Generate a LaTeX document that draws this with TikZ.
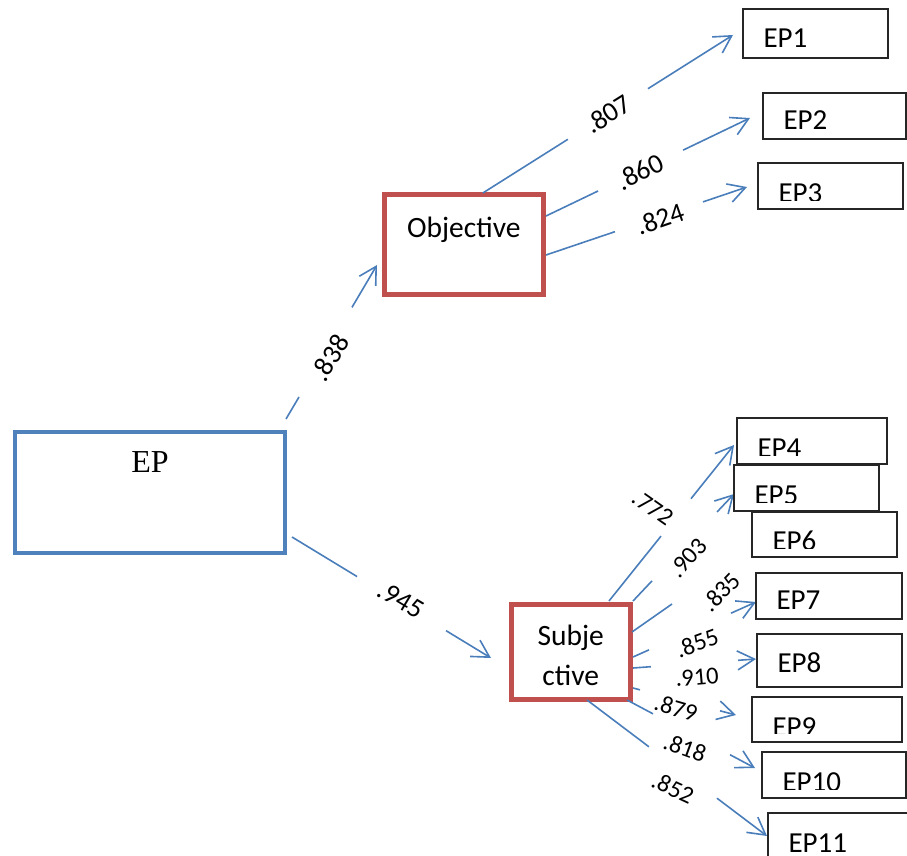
\documentclass[tikz,border=0pt]{standalone}
\usepackage{fontspec}
\setmainfont{Carlito}
\newfontfamily\serifEP{Liberation Serif}
\usetikzlibrary{arrows.meta,calc}
\definecolor{boxblue}{HTML}{4F81BD}
\definecolor{boxred}{HTML}{C0504D}
\definecolor{linkblue}{HTML}{4A7EBB}
\definecolor{boxline}{HTML}{262626}

\begin{document}
\begin{tikzpicture}[x=1pt,y=-1pt,
  conn/.style={draw=linkblue, line width=1.6pt},
  tipped/.style={conn, -{Straight Barb[length=17pt,width=19pt]}},
  coef/.style={inner sep=0pt, font=\fontsize{27.5}{32}\selectfont},
  smallcoef/.style={inner sep=0pt, font=\fontsize{24.5}{29}\selectfont},
  mainbox/.style={draw=boxblue, line width=4.5pt, rectangle, inner sep=0pt, outer sep=0pt,
    minimum width=270pt, text height=40.7pt, text depth=80.3pt,
    font=\serifEP\fontsize{32}{38}\selectfont},
  factorbox/.style={draw=boxred, line width=5pt, rectangle, inner sep=0pt, outer sep=0pt,
    font=\fontsize{29.5}{40}\selectfont},
  % width, height, baseline below the top edge, text
  epbox/.style n args={4}{draw=boxline, line width=1.6pt, fill=white, rectangle,
    inner sep=0pt, outer sep=0pt, minimum width=#1pt, minimum height=#2pt,
    path picture={
      \clip (path picture bounding box.north west) rectangle
            ([yshift=9pt]path picture bounding box.south east);
      \pgftext[left,base,at={\pgfpointadd
          {\pgfpointanchor{path picture bounding box}{north west}}
          {\pgfpoint{20.5pt}{-#3pt}}}]{\fontsize{29}{34}\selectfont #4}
    }},
]
\clip (0,0) rectangle (907,856);

% latent variables
\node[mainbox] (ep) at (150,492.5) {EP};
\node[factorbox, minimum width=159.7pt, text height=42.5pt, text depth=57.5pt]
  (obj) at (463.85,244.5) {Objective};
\node[factorbox, minimum width=119.5pt, text height=81pt, text depth=14pt, align=center]
  (subj) at (570.75,651.5) {Subje\\ctive};

% anchor points of the connectors
\coordinate (s1) at ($(ep.north east)+(1,-13)$);
\coordinate (s2) at ($(ep.east)+(7,44.5)$);
\coordinate (s3) at ($(obj.north)+(19,-1.5)$);
\coordinate (s4) at ($(obj.east)+(2.3,-28.5)$);
\coordinate (s5) at ($(obj.east)+(2.3,10.5)$);
\coordinate (s6) at ($(subj.north east)+(-21.5,-3)$);
\coordinate (s7) at ($(subj.north east)+(2.5,-3)$);
\coordinate (s8) at ($(subj.east)+(1.5,-19.5)$);
\coordinate (s9) at ($(subj.east)+(2.5,5.5)$);
\coordinate (s10) at ($(subj.east)+(2.5,16.5)$);
\coordinate (s11) at ($(subj.east)+(2.5,36.5)$);
\coordinate (s12) at ($(subj.south east)+(-3.5,1)$);
\coordinate (s13) at ($(subj.south)+(16.25,1)$);

% indicator boxes
\node[epbox={145}{49}{39}{EP1}] (ep1) at (815.5,33.5) {};
\node[epbox={143}{46}{36.5}{EP2}] (ep2) at (834.5,116) {};
\node[epbox={145}{46}{39.5}{EP3}] (ep3) at (830.5,186) {};

\coordinate (t1) at ($(obj.west)+(-7,20.5)$);
\coordinate (t2) at ($(subj.west)+(-20,6.5)$);
\coordinate (t3) at ($(ep1.west)+(-10,1.5)$);
\coordinate (t4) at ($(ep2.west)+(-13,2)$);
\coordinate (t5) at ($(ep3.west)+(-11,1)$);

% second-order paths
\draw[conn] (s1) -- ($(s1)!0.143!(t1)$);
\draw[tipped] ($(s1)!0.725!(t1)$) -- (t1);
\draw[conn] (s2) -- ($(s2)!0.327!(t2)$);
\draw[tipped] ($(s2)!0.774!(t2)$) -- (t2);

% objective indicators
\draw[conn] (s3) -- ($(s3)!0.34!(t3)$);
\draw[tipped] ($(s3)!0.66!(t3)$) -- (t3);
\draw[conn] (s4) -- ($(s4)!0.255!(t4)$);
\draw[tipped] ($(s4)!0.672!(t4)$) -- (t4);
\draw[conn] (s5) -- ($(s5)!0.343!(t5)$);
\draw[tipped] ($(s5)!0.781!(t5)$) -- (t5);

% subjective indicators
\coordinate (t6) at (734,445);
\coordinate (t7) at (734,494);
\coordinate (t8) at (752,548);
\coordinate (t9) at (756,602);
\coordinate (t10) at (756,659);
\coordinate (t11) at (736,715);
\coordinate (t12) at (755,768);
\coordinate (t13) at (767,836);

\draw[conn] (s6) -- ($(s6)!0.416!(t6)$);
\draw[tipped] ($(s6)!0.656!(t6)$) -- (t6);
\draw[conn] (s7) -- ($(s7)!0.188!(t7)$);
\draw[tipped] ($(s7)!0.832!(t7)$) -- (t7);
\draw[conn] (s8) -- ($(s8)!0.333!(t8)$);
\draw[conn] (s9) -- ($(s9)!0.13!(t9)$);
\draw[tipped] ($(s9)!0.797!(t9)$) -- (t9);
\draw[conn] (s10) -- ($(s10)!0.146!(t10)$);
\draw[tipped] ($(s10)!0.854!(t10)$) -- (t10);
\draw[conn] (s11) -- ($(s11)!0.068!(t11)$);
\draw[tipped] ($(s11)!0.845!(t11)$) -- (t11);
\draw[conn] (s12) -- ($(s12)!0.203!(t12)$);
\draw[tipped] ($(s12)!0.805!(t12)$) -- (t12);
\draw[conn] (s13) -- ($(s13)!0.344!(t13)$);
\draw[tipped] ($(s13)!0.722!(t13)$) -- (t13);

\node[epbox={150}{46}{39}{EP4}] (ep4) at (812,441) {};
\node[epbox={145}{46}{39}{EP5}] (ep5) at (806.5,488) {};
\node[epbox={145}{45}{38.5}{EP6}] (ep6) at (824.5,534.5) {};
\node[epbox={146}{46}{36}{EP7}] (ep7) at (829,596) {};
\node[epbox={145}{53}{38}{EP8}] (ep8) at (829.5,660.5) {};
\node[epbox={150}{45}{39}{EP9}] (ep9) at (827,719.5) {};
\node[epbox={144}{46}{39}{EP10}] (ep10) at (834,775) {};
\node[epbox={142}{57}{39}{EP11}] (ep11) at (839,841.5) {};

% loadings
\node[coef, rotate=59] (l838) at (330,358) {.838};
\node[coef, rotate=-31] (l945) at (401,600) {.945};
\node[coef, rotate=32] (l807) at (608,114) {.807};
\node[coef, rotate=26] (l860) at (640,172) {.860};
\node[coef, rotate=19] (l824) at (660,219) {.824};
\node[smallcoef, rotate=-35] (l772) at (653,508) {.772};
\node[smallcoef, rotate=48] (l903) at (688,558) {.903};
\node[smallcoef, rotate=46] (l835) at (721,592) {.835};
\node[smallcoef, rotate=20] (l855) at (697,643) {.855};
\node[smallcoef, rotate=5] (l910) at (697,677) {.910};
\node[smallcoef, rotate=-16] (l879) at (676,708) {.879};
\node[smallcoef, rotate=-20] (l818) at (685,748) {.818};
\node[smallcoef, rotate=-25] (l852) at (673,788) {.852};
\end{tikzpicture}
\end{document}
